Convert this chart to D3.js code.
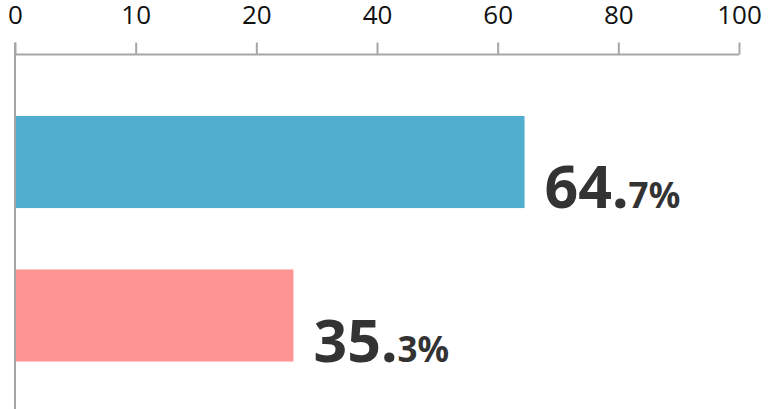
<!DOCTYPE html>
<html><head><meta charset="utf-8">
<script src="https://cdn.jsdelivr.net/npm/d3@7"></script>
<style>body{margin:0;background:#fff}svg{display:block}</style>
</head><body>
<svg id="c" width="768" height="409"></svg>
<script>
const categories = ["A", "B"];
const values = [64.7, 35.3];
const colors = ["#51AECF", "#FF9494"];
const tickLabels = ["0", "10", "20", "40", "60", "80", "100"];

const svg = d3.select("#c");
const axisY = 54.5;

// tick positions (evenly spaced labels as in the reference)
const xTick = d3.scalePoint().domain(tickLabels).range([15, 739]);
// bar length scale
const x = d3.scaleLinear().domain([0, 100]).range([16, 802]);
const y = d3.scaleBand().domain(categories).range([116, 361.5]).paddingInner(0.4).paddingOuter(0);

const axisG = svg.append("g").attr("transform", `translate(0,${axisY})`);
const ax = d3.axisTop(xTick).tickSize(12).tickPadding(7);
axisG.call(ax);
axisG.select(".domain").attr("stroke", "#a6a6a6").attr("stroke-width", 2).attr("d", `M15,0H739`);
axisG.selectAll(".tick line").attr("stroke", "#a6a6a6").attr("stroke-width", 2);
axisG.selectAll(".tick text").attr("fill", "#111").attr("font-family", "'Open Sans', sans-serif").attr("font-size", 26).attr("dy", 0);
axisG.selectAll(".tick text").attr("y", -31);

// vertical baseline
svg.append("line").attr("x1", 15).attr("x2", 15).attr("y1", axisY - 12).attr("y2", 409)
  .attr("stroke", "#a6a6a6").attr("stroke-width", 2);

svg.selectAll("rect.bar").data(values).enter().append("rect")
  .attr("class", "bar")
  .attr("x", x(0))
  .attr("y", (d, i) => y(categories[i]))
  .attr("width", d => x(d) - x(0))
  .attr("height", y.bandwidth())
  .attr("fill", (d, i) => colors[i]);

const lbl = svg.selectAll("text.val").data(values).enter().append("text")
  .attr("class", "val")
  .attr("x", d => x(d) + 20)
  .attr("y", (d, i) => y(categories[i]) + y.bandwidth())
  .attr("fill", "#333")
  .attr("font-family", "'Noto Sans', sans-serif")
  .attr("font-weight", "bold");
lbl.append("tspan").attr("font-size", 59).text(d => String(Math.floor(d)) + ".");
lbl.append("tspan").attr("font-size", 35).text(d => d.toFixed(1).split(".")[1] + "%");
</script>
</body></html>
